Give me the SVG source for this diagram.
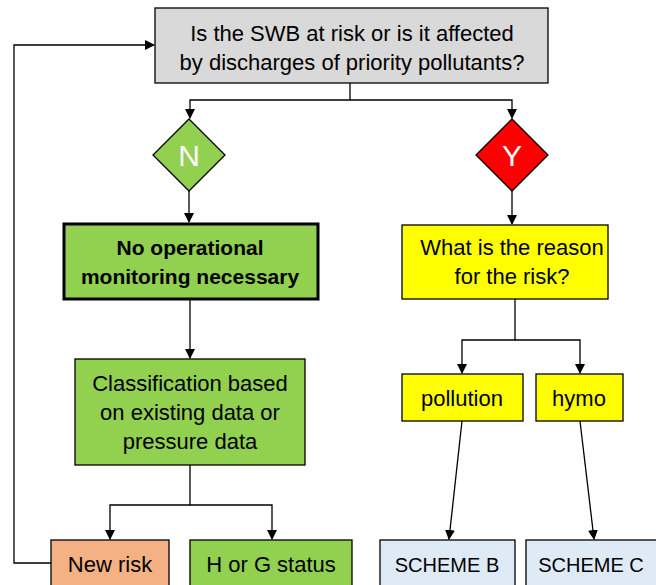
<svg xmlns="http://www.w3.org/2000/svg" width="656" height="585" viewBox="0 0 656 585">
<defs>
<marker id="ah" markerWidth="10" markerHeight="10" refX="9" refY="5" orient="auto" markerUnits="userSpaceOnUse">
<path d="M0,0 L10,5 L0,10 Z" fill="#000"/>
</marker>
<style>
.b{stroke:#000;stroke-width:1.3}
.t{font-family:"Liberation Sans",Arial,sans-serif;font-size:22px;fill:#000;text-anchor:middle}
.bold{font-weight:bold;font-size:21px}
.s{font-size:20px}
.c{fill:none;stroke:#000;stroke-width:1.3;marker-end:url(#ah)}
</style>
</defs>
<rect width="656" height="585" fill="#fff"/>
<g id="connectors">
<path class="c" d="M350,83 V100 H190 V118"/>
<path class="c" d="M350,100 H512 V118"/>
<path class="c" d="M189,191 V222"/>
<path class="c" d="M512,191 V224"/>
<path class="c" d="M190,299 V358"/>
<path class="c" d="M190,465 V505 H110 V539"/>
<path class="c" d="M190,505 H272 V539"/>
<path class="c" d="M515,299 V340 H462 V373"/>
<path class="c" d="M515,340 H580 V373"/>
<path class="c" d="M462,421 L449,539"/>
<path class="c" d="M580,421 L594,539"/>
<path class="c" d="M51,563 H14 V45 H154"/>
</g>
<g id="question">
<rect class="b" x="155" y="8" width="393" height="75" fill="#D9D9D9"/>
<text class="t" x="352" y="41">Is the SWB at risk or is it affected</text>
<text class="t" x="352" y="70">by discharges of priority pollutants?</text>
</g>
<g id="n">
<path class="b" d="M189,119 L225,155 L189,191 L153,155 Z" fill="#92D050"/>
<text class="t" x="189" y="166" style="font-size:30px;fill:#fff">N</text>
</g>
<g id="y">
<path class="b" d="M512,119 L548,155 L512,191 L476,155 Z" fill="#FF0000"/>
<text class="t" x="512" y="166" style="font-size:30px;fill:#fff">Y</text>
</g>
<g id="nomon">
<rect x="64" y="224" width="254" height="75" fill="#92D050" stroke="#000" stroke-width="3"/>
<text class="t bold" x="190" y="255">No operational</text>
<text class="t bold" x="190" y="284">monitoring necessary</text>
</g>
<g id="reason">
<rect class="b" x="402" y="225" width="206" height="74" fill="#FFFF00"/>
<text class="t" x="512" y="255">What is the reason</text>
<text class="t" x="512" y="284">for the risk?</text>
</g>
<g id="classification">
<rect class="b" x="75" y="359" width="230" height="106" fill="#92D050"/>
<text class="t" x="190" y="391">Classification based</text>
<text class="t" x="190" y="420">on existing data or</text>
<text class="t" x="190" y="449">pressure data</text>
</g>
<g id="pollution">
<rect class="b" x="402" y="374" width="121" height="47" fill="#FFFF00"/>
<text class="t" x="462" y="406">pollution</text>
</g>
<g id="hymo">
<rect class="b" x="536" y="374" width="87" height="47" fill="#FFFF00"/>
<text class="t" x="579" y="406">hymo</text>
</g>
<g id="newrisk">
<rect class="b" x="51" y="540" width="118" height="50" fill="#F4B183"/>
<text class="t" x="110" y="572">New risk</text>
</g>
<g id="hg">
<rect class="b" x="190" y="540" width="162" height="50" fill="#92D050"/>
<text class="t" x="271" y="572">H or G status</text>
</g>
<g id="schemeb">
<rect class="b" x="380" y="540" width="135" height="50" fill="#DEEBF7"/>
<text class="t s" x="447" y="572">SCHEME B</text>
</g>
<g id="schemec">
<rect class="b" x="526" y="540" width="135" height="50" fill="#DEEBF7"/>
<text class="t s" x="591" y="572">SCHEME C</text>
</g>
</svg>
